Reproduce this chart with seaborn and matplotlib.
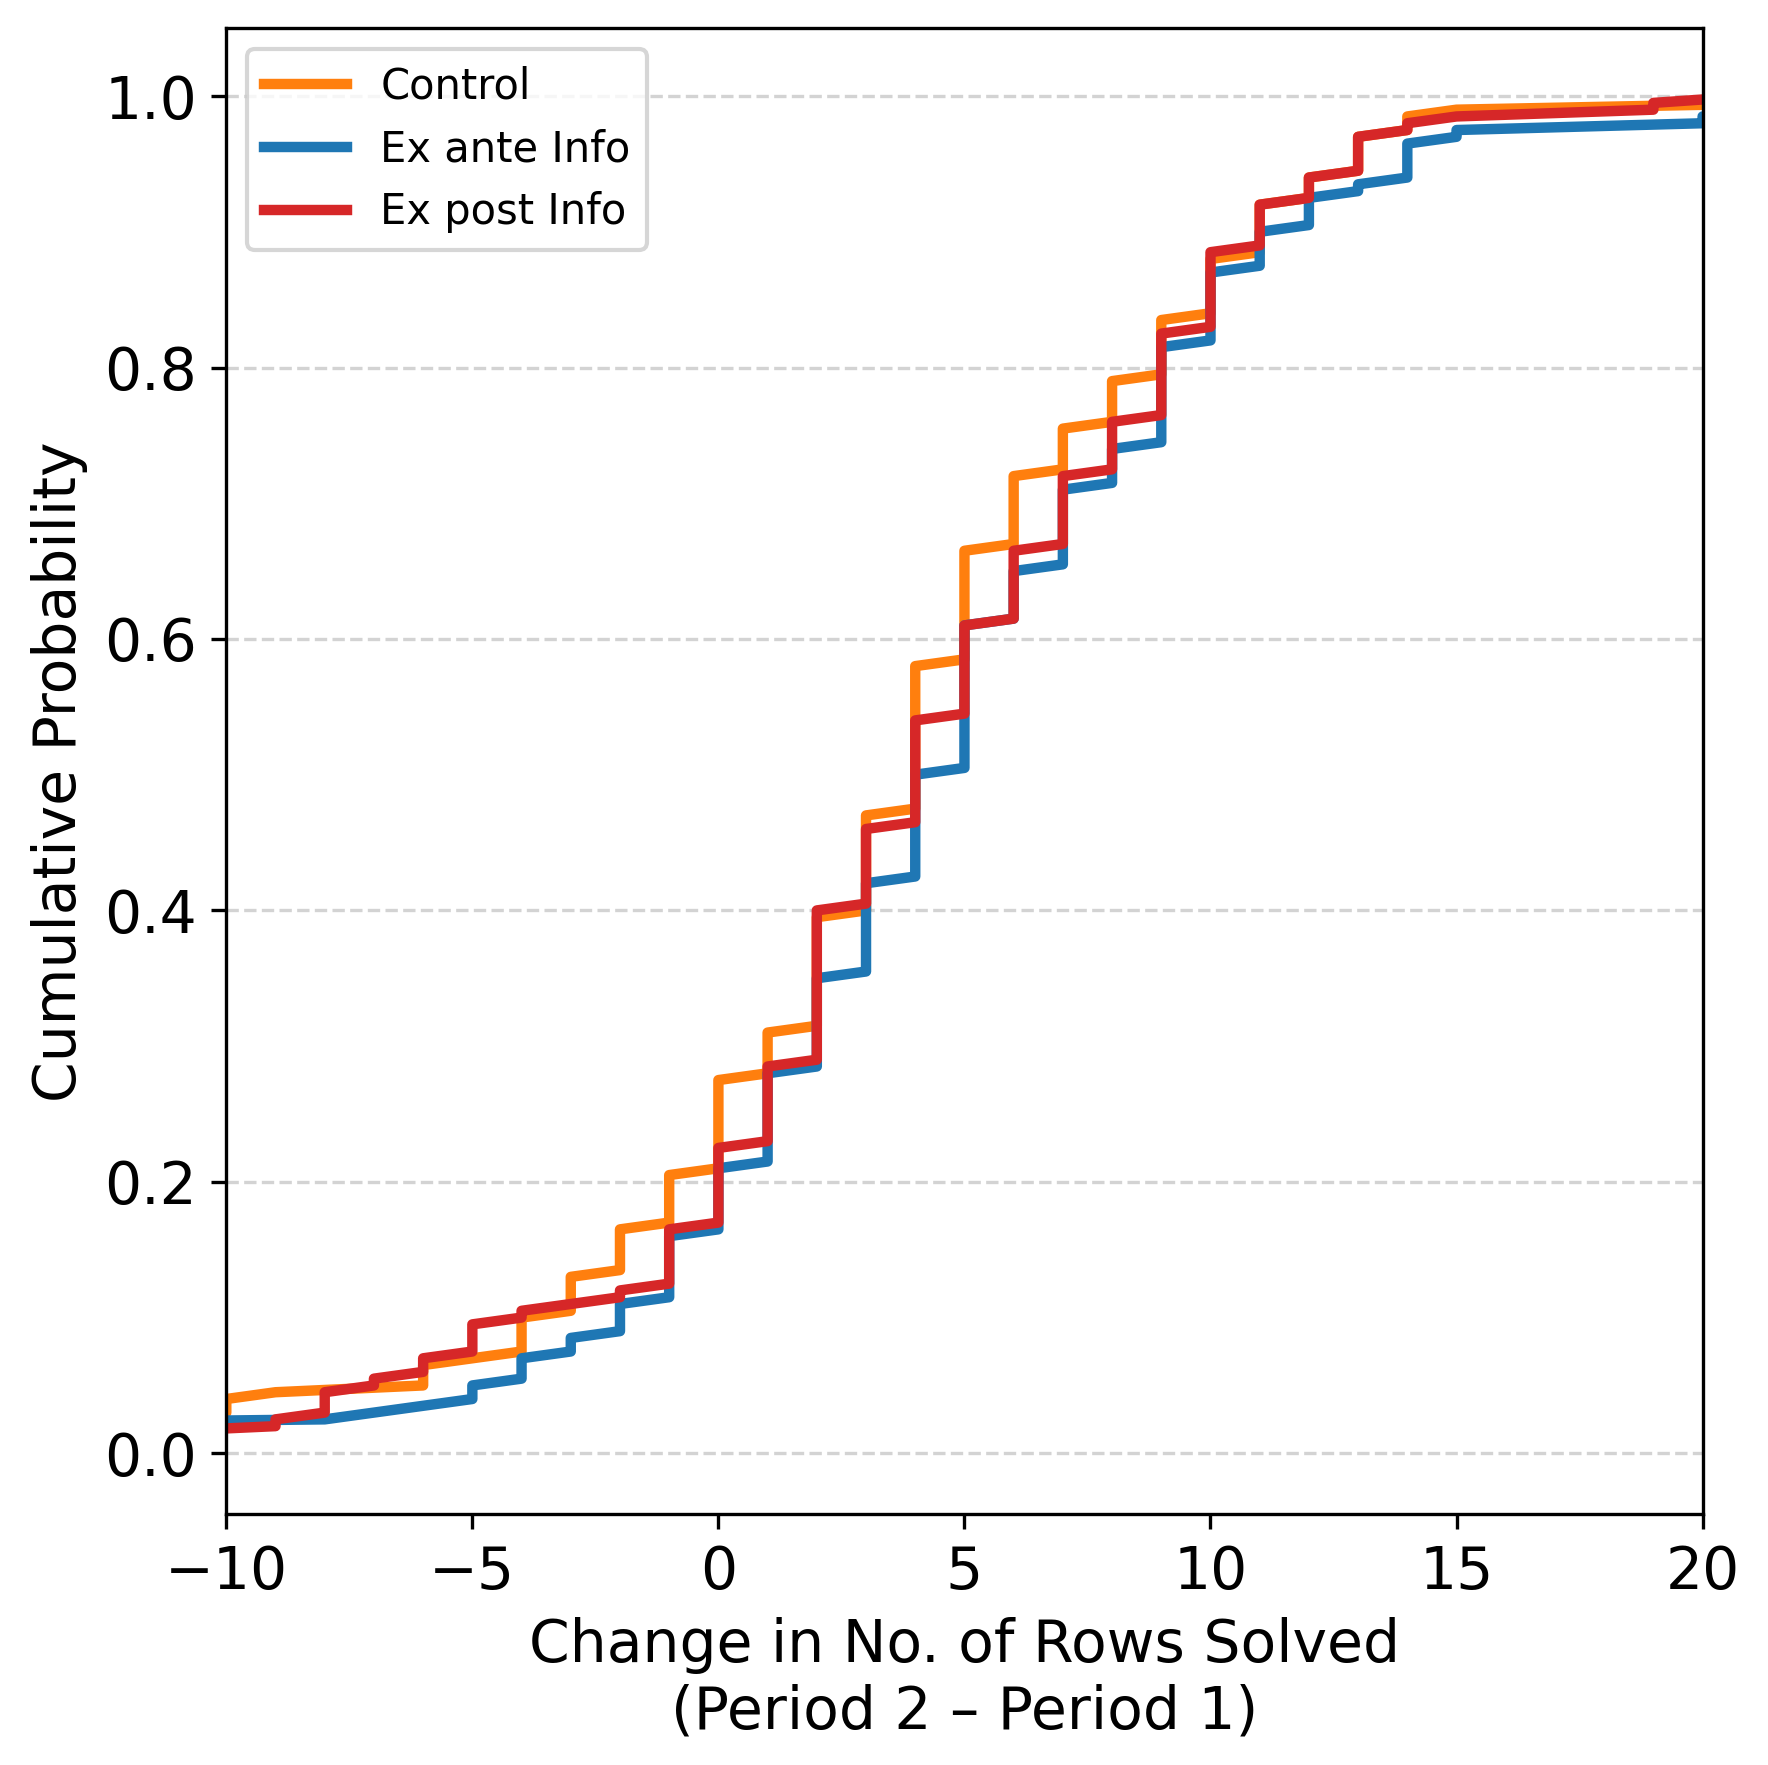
import numpy as np
import pandas as pd
import matplotlib
matplotlib.use("Agg")
import matplotlib.pyplot as plt
import seaborn as sns

# =========================
# DATA (counts per change value)
# =========================
groups = ["Control", "Ex ante Info", "Ex post Info"]
colors = ["#ff7f0e", "#1f77b4", "#d62728"]

control_values = [-12, -11, -10, -9, -6, -5, -4, -3, -2, -1, 0, 1, 2, 3, 4, 5, 6, 7, 8, 9, 10, 11, 12, 13, 14, 15, 22, 25]
control_counts = [2, 3, 3, 1, 4, 1, 6, 6, 7, 8, 14, 7, 17, 15, 22, 17, 11, 7, 7, 9, 9, 8, 4, 6, 3, 1, 1, 1]

exante_values = [-25, -22, -20, -8, -7, -6, -5, -4, -3, -2, -1, 0, 1, 2, 3, 4, 5, 6, 7, 8, 9, 10, 11, 12, 13, 14, 15, 20, 23, 26, 30]
exante_counts = [1, 1, 2, 1, 1, 1, 3, 4, 3, 5, 10, 10, 14, 14, 14, 16, 22, 8, 12, 6, 15, 11, 6, 5, 2, 6, 2, 2, 1, 1, 1]

expost_values = [-15, -13, -12, -9, -8, -7, -6, -5, -4, -3, -2, -1, 0, 1, 2, 3, 4, 5, 6, 7, 8, 9, 10, 11, 12, 13, 14, 15, 19, 21]
expost_counts = [1, 1, 1, 2, 4, 2, 3, 5, 2, 1, 2, 9, 12, 12, 23, 12, 16, 14, 11, 11, 8, 13, 12, 7, 4, 6, 2, 1, 2, 1]

xticks = [-10, -5, 0, 5, 10, 15, 20]
yticks = [0.0, 0.2, 0.4, 0.6, 0.8, 1.0]

# =========================
# BUILD ECDF TABLE
# =========================
frames = []
for name, vals, cnts in [
    ("Control", control_values, control_counts),
    ("Ex ante Info", exante_values, exante_counts),
    ("Ex post Info", expost_values, expost_counts),
]:
    x = np.sort(np.repeat(vals, cnts))
    y = np.arange(1, len(x) + 1) / len(x)
    frames.append(pd.DataFrame({"change": x, "cdf": y, "group": name}))
df = pd.concat(frames, ignore_index=True)

# =========================
# PLOT
# =========================
fig, ax = plt.subplots(figsize=(1768 / 300, 1765 / 300))
fig.subplots_adjust(left=0.128, right=0.963, top=0.984, bottom=0.142)

for name, col in zip(groups, colors):
    sns.lineplot(
        data=df[df["group"] == name],
        x="change", y="cdf",
        estimator=None, sort=False,
        color=col, linewidth=2.5, label=name, ax=ax
    )

ax.grid(axis="y", linestyle="--", color="lightgray", linewidth=0.8)
ax.set_xlim(-10, 20)
ax.set_ylim(-0.045, 1.05)
ax.set_xticks(xticks)
ax.set_yticks(yticks)
ax.tick_params(labelsize=14)
ax.set_xlabel("Change in No. of Rows Solved\n(Period 2 \u2013 Period 1)", fontsize=14)
ax.set_ylabel("Cumulative Probability", fontsize=14)
ax.legend(loc="upper left", fontsize=10)

fig.savefig("out.png", dpi=300)
